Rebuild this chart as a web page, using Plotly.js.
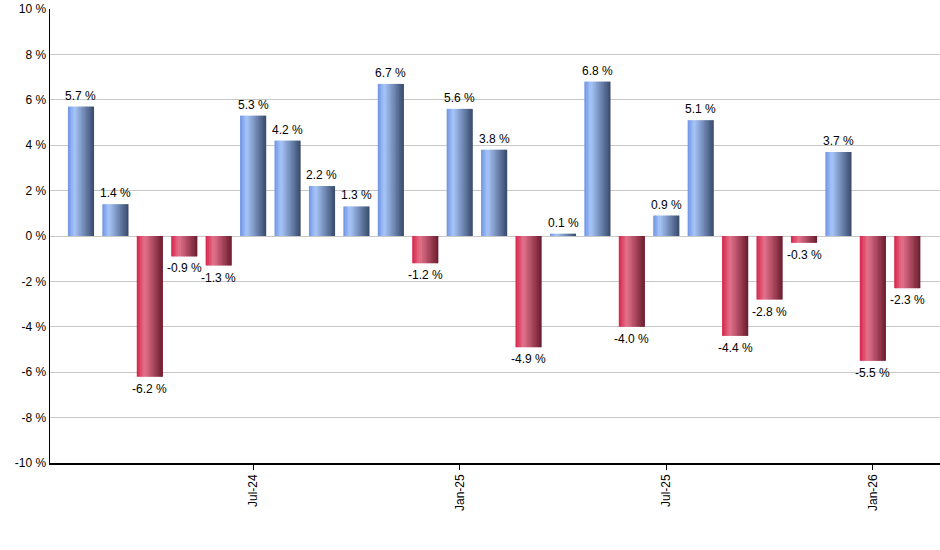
<!DOCTYPE html>
<html>
<head>
<meta charset="utf-8">
<script src="https://cdn.plot.ly/plotly-3.0.1.min.js"></script>
<style>
  body { margin: 0; background: #fff; }
  #chart { width: 940px; height: 550px; }
</style>
</head>
<body>
<div id="chart"></div>
<script>
const months = ['Feb-24', 'Mar-24', 'Apr-24', 'May-24', 'Jun-24', 'Jul-24', 'Aug-24', 'Sep-24',
  'Oct-24', 'Nov-24', 'Dec-24', 'Jan-25', 'Feb-25', 'Mar-25', 'Apr-25', 'May-25', 'Jun-25',
  'Jul-25', 'Aug-25', 'Sep-25', 'Oct-25', 'Nov-25', 'Dec-25', 'Jan-26', 'Feb-26'];
const returns = [5.7, 1.4, -6.2, -0.9, -1.3, 5.3, 4.2, 2.2, 1.3, 6.7, -1.2, 5.6, 3.8, -4.9,
  0.1, 6.8, -4.0, 0.9, 5.1, -4.4, -2.8, -0.3, 3.7, -5.5, -2.3];
const tickMonths = ['Jul-24', 'Jan-25', 'Jul-25', 'Jan-26'];
const yTicks = [-10, -8, -6, -4, -2, 0, 2, 4, 6, 8, 10];

// left -> right shading of each bar
const blueStops = [[0, [110, 146, 226]], [0.25, [168, 198, 250]], [1, [54, 72, 106]]];
const redStops = [[0, [214, 36, 74]], [0.3, [228, 114, 140]], [1, [106, 26, 44]]];

function shade(stops, t) {
  for (let i = 1; i < stops.length; i++) {
    if (t <= stops[i][0]) {
      const a = stops[i - 1], b = stops[i];
      const f = (t - a[0]) / (b[0] - a[0]);
      const c = a[1].map((v, k) => Math.round(v + (b[1][k] - v) * f));
      return 'rgb(' + c.join(',') + ')';
    }
  }
  return 'rgb(' + stops[stops.length - 1][1].join(',') + ')';
}

const barWidth = 0.76;
const strips = 16;
const stripW = barWidth / strips;

let data = [];
for (let s = 0; s < strips; s++) {
  const t = (s + 0.5) / strips;
  data.push({
    type: 'bar',
    x: months,
    y: returns,
    offset: -barWidth / 2 + s * stripW,
    width: s === strips - 1 ? stripW : stripW * 1.4,
    marker: {
      color: returns.map(v => v >= 0 ? shade(blueStops, t) : shade(redStops, t)),
      line: { width: 0 }
    },
    hoverinfo: 'skip',
    showlegend: false
  });
}

const labels = months.map((m, i) => ({
  x: m,
  y: returns[i],
  xref: 'x',
  yref: 'y',
  text: returns[i].toFixed(1) + ' %',
  showarrow: false,
  yshift: returns[i] >= 0 ? 11 : -12,
  font: { family: 'Liberation Sans, Arial, sans-serif', size: 12, color: '#000' }
}));

const layout = {
  width: 940,
  height: 550,
  margin: { l: 50, r: 0, t: 9, b: 87 },
  paper_bgcolor: '#fff',
  plot_bgcolor: '#fff',
  barmode: 'overlay',
  font: { family: 'Liberation Sans, Arial, sans-serif', size: 12, color: '#000' },
  annotations: labels,
  xaxis: {
    type: 'category',
    range: [-0.9, 24.95],
    tickmode: 'array',
    tickvals: tickMonths,
    ticktext: tickMonths,
    tickangle: -90,
    ticks: 'outside',
    ticklen: 5,
    tickcolor: '#000',
    showgrid: false,
    showline: true,
    linecolor: '#000',
    linewidth: 1.5,
    zeroline: false,
    fixedrange: true
  },
  yaxis: {
    range: [-10, 10],
    tickmode: 'array',
    tickvals: yTicks,
    ticktext: yTicks.map(v => v + ' %'),
    showgrid: true,
    gridcolor: '#c8c8c8',
    gridwidth: 1,
    zeroline: false,
    showline: true,
    linecolor: '#000',
    linewidth: 1.5,
    ticks: '',
    fixedrange: true
  }
};

Plotly.newPlot('chart', data, layout, { displayModeBar: false, staticPlot: true });
</script>
</body>
</html>
